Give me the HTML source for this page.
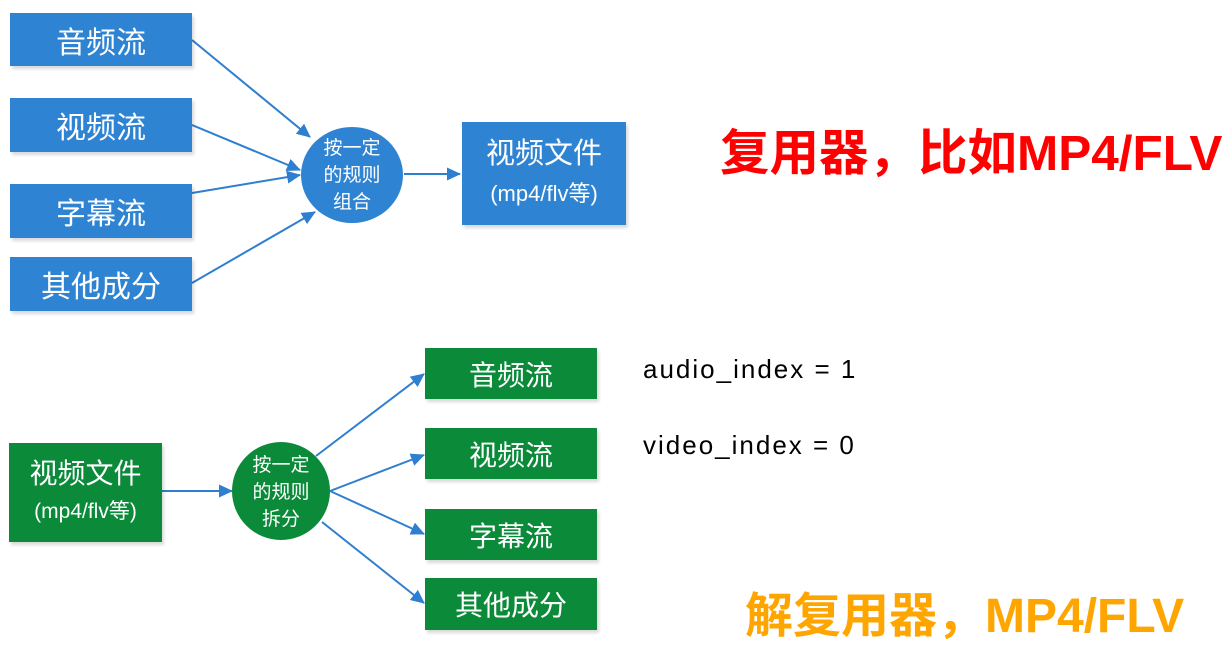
<!DOCTYPE html>
<html><head><meta charset="utf-8"><style>
body{margin:0;width:1228px;height:648px;background:#fff;overflow:hidden;position:relative;font-family:"Liberation Sans","Noto Sans CJK SC",sans-serif}
.b{position:absolute;color:#fff;display:flex;align-items:center;justify-content:center;text-align:center;box-shadow:2px 3px 3px rgba(0,0,0,.15)}
.bl{background:#2e84d3}.gr{background:#0b8a3a}
.t{position:absolute;white-space:nowrap}
</style></head><body>
<svg width="1228" height="648" style="position:absolute;left:0;top:0">
<defs><marker id="a" markerWidth="14" markerHeight="14" refX="13" refY="6.5" orient="auto" markerUnits="userSpaceOnUse"><path d="M0,0 L14,6.5 L0,13z" fill="#2e7fd0"/></marker></defs>
<g stroke="#2e7fd0" stroke-width="2" fill="none" marker-end="url(#a)">
<line x1="192" y1="40" x2="310" y2="137"/>
<line x1="192" y1="125" x2="300" y2="170"/>
<line x1="192" y1="193" x2="300" y2="175"/>
<line x1="192" y1="283" x2="315" y2="212"/>
<line x1="404" y1="174" x2="460" y2="174"/>
<line x1="162" y1="491" x2="232" y2="491"/>
<line x1="316" y1="456" x2="424" y2="374"/>
<line x1="330" y1="491" x2="424" y2="455"/>
<line x1="330" y1="491" x2="424" y2="534"/>
<line x1="322" y1="522" x2="424" y2="603"/>
</g>
<ellipse cx="352" cy="175" rx="51" ry="48" fill="#2e84d3"/>
<ellipse cx="281" cy="491" rx="49" ry="49" fill="#0b8a3a"/>
<g fill="#fff" font-size="19" text-anchor="middle" font-family="Liberation Sans,Noto Sans CJK SC,sans-serif">
<text x="352" y="154">按一定</text><text x="352" y="181">的规则</text><text x="352" y="208">组合</text>
<text x="281" y="471">按一定</text><text x="281" y="498">的规则</text><text x="281" y="525">拆分</text>
</g>
</svg>
<div class="b bl" style="left:10px;top:13px;width:182px;height:53px;font-size:30px">音频流</div>
<div class="b bl" style="left:10px;top:98px;width:182px;height:54px;font-size:30px">视频流</div>
<div class="b bl" style="left:10px;top:184px;width:182px;height:54px;font-size:30px">字幕流</div>
<div class="b bl" style="left:10px;top:257px;width:182px;height:54px;font-size:30px">其他成分</div>
<div class="b bl" style="left:462px;top:122px;width:164px;height:103px;font-size:29px;flex-direction:column;line-height:40px">视频文件<span style="font-size:22px">(mp4/flv等)</span></div>
<div class="b gr" style="left:9px;top:443px;width:153px;height:99px;font-size:28px;flex-direction:column;line-height:38px">视频文件<span style="font-size:21px">(mp4/flv等)</span></div>
<div class="b gr" style="left:425px;top:348px;width:172px;height:51px;font-size:28px">音频流</div>
<div class="b gr" style="left:425px;top:428px;width:172px;height:51px;font-size:28px">视频流</div>
<div class="b gr" style="left:425px;top:509px;width:172px;height:51px;font-size:28px">字幕流</div>
<div class="b gr" style="left:425px;top:578px;width:172px;height:52px;font-size:28px">其他成分</div>
<div class="t" style="left:720px;top:114px;font-size:49.5px;font-weight:bold;color:#ff0000">复用器，比如MP4/FLV</div>
<div class="t" style="left:745px;top:576px;font-size:48px;font-weight:bold;color:#ffa500">解复用器，MP4/FLV</div>
<div class="t" style="left:643px;top:354px;font-size:26px;letter-spacing:2px;color:#000">audio_index = 1</div>
<div class="t" style="left:643px;top:430px;font-size:26px;letter-spacing:2px;color:#000">video_index = 0</div>
</body></html>
